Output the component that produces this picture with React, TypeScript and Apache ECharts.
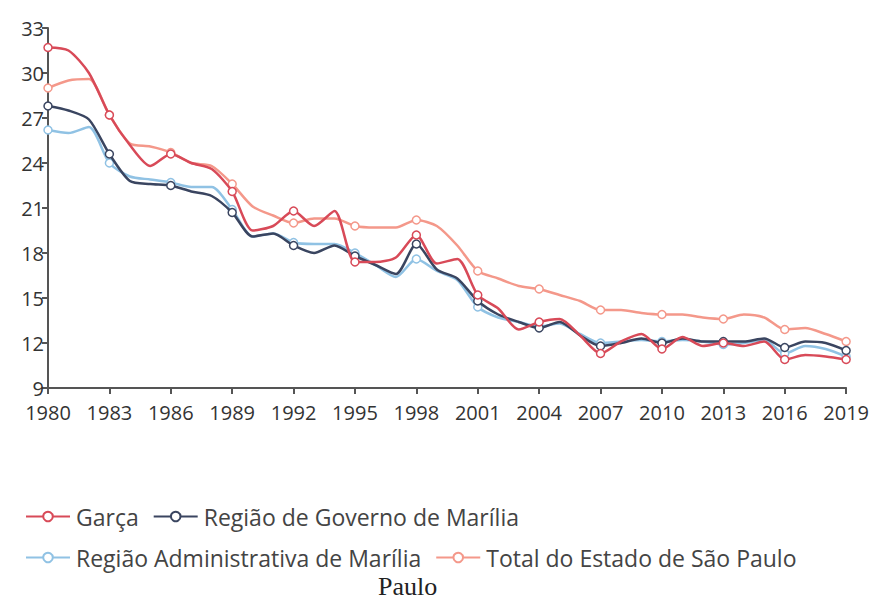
import React, { useEffect, useRef } from "react";
import * as echarts from "echarts";

const years: string[] = [];
for (let y = 1980; y <= 2019; y++) years.push(String(y));

const garca = [31.7, 31.5, 30.0, 27.2, 25.2, 23.8, 24.6, 24.0, 23.6, 22.1,
  19.5, 19.8, 20.8, 19.8, 20.8, 17.4, 17.4, 17.7, 19.2, 17.3,
  17.6, 15.2, 14.3, 12.9, 13.4, 13.6, 12.5, 11.3, 12.1, 12.6,
  11.6, 12.4, 11.8, 12.0, 11.8, 12.1, 10.9, 11.2, 11.1, 10.9];
const governo = [27.8, 27.5, 26.9, 24.6, 22.8, 22.6, 22.5, 22.1, 21.8, 20.7,
  19.1, 19.3, 18.5, 18.0, 18.5, 17.8, 17.2, 16.6, 18.6, 16.9,
  16.3, 14.8, 13.9, 13.4, 13.0, 13.4, 12.5, 11.8, 12.0, 12.3,
  12.0, 12.3, 12.1, 12.1, 12.1, 12.3, 11.7, 12.1, 12.0, 11.5];
const administrativa = [26.2, 26.0, 26.4, 24.0, 23.1, 22.9, 22.7, 22.4, 22.4, 20.9,
  19.1, 19.3, 18.7, 18.6, 18.6, 18.0, 17.2, 16.4, 17.6, 16.8,
  16.2, 14.4, 13.7, 13.4, 13.1, 13.3, 12.6, 12.0, 12.1, 12.2,
  12.1, 12.2, 12.1, 11.9, 12.0, 12.2, 11.3, 11.8, 11.6, 11.1];
const total = [29.0, 29.5, 29.6, 27.2, 25.3, 25.1, 24.7, 24.0, 23.8, 22.6,
  21.1, 20.5, 20.0, 20.3, 20.3, 19.8, 19.7, 19.7, 20.2, 19.8,
  18.5, 16.8, 16.3, 15.8, 15.6, 15.2, 14.8, 14.2, 14.2, 14.0,
  13.9, 13.9, 13.7, 13.6, 13.9, 13.7, 12.9, 13.0, 12.6, 12.1];

const seriesNames = [
  "Garça",
  "Região de Governo de Marília",
  "Região Administrativa de Marília",
  "Total do Estado de São Paulo",
];
const seriesData = [garca, governo, administrativa, total];
const seriesColors = ["#d84a58", "#3a4560", "#90c2e4", "#f4988a"];

export default function App() {
  const ref = useRef<HTMLDivElement>(null);
  useEffect(() => {
    if (!ref.current) return;
    const chart = echarts.init(ref.current, null, { renderer: "svg" });
    const font = "'Open Sans', 'Noto Sans', sans-serif";
    const legendText = { fontSize: 23, color: "#444", fontFamily: font, padding: [0, 0, 0, 1] };
    chart.setOption({
      animation: false,
      textStyle: { fontFamily: font },
      grid: { left: 48, right: 22, top: 28, bottom: 214 },
      legend: [
        {
          data: [seriesNames[0], seriesNames[1]],
          left: 20,
          top: 500,
          itemWidth: 44,
          itemHeight: 12,
          itemGap: 14,
          textStyle: legendText,
        },
        {
          data: [seriesNames[2], seriesNames[3]],
          left: 20,
          top: 541,
          itemWidth: 44,
          itemHeight: 12,
          itemGap: 14,
          textStyle: legendText,
        },
      ],
      xAxis: {
        type: "category",
        data: years,
        boundaryGap: false,
        axisLine: { lineStyle: { color: "#555", width: 2 } },
        axisTick: { interval: 2, length: 6, lineStyle: { color: "#555", width: 2 } },
        axisLabel: { interval: 2, fontSize: 20, lineHeight: 14, color: "#333", margin: 17 },
      },
      yAxis: {
        type: "value",
        min: 9,
        max: 33,
        interval: 3,
        splitLine: { show: false },
        axisLine: { show: true, lineStyle: { color: "#555", width: 2 } },
        axisTick: { show: true, length: 6, lineStyle: { color: "#555", width: 2 } },
        axisLabel: { fontSize: 20, lineHeight: 14, color: "#333", margin: 4 },
      },
      series: seriesNames.map((name, i) => ({
        name,
        type: "line",
        data: seriesData[i],
        smooth: 0.25,
        symbol: "circle",
        symbolSize: (_v: any, p: any) => (p.dataIndex % 3 === 0 ? 8 : 0),
        showAllSymbol: true,
        z: i === 3 ? 1 : 4 - i,
        lineStyle: { color: seriesColors[i], width: 2.5 },
        itemStyle: { color: "#fff", borderColor: seriesColors[i], borderWidth: 1.5 },
      })),
      graphic: [
        {
          type: "text",
          left: 378,
          top: 573,
          style: {
            text: "Paulo",
            fontSize: 26,
            fontFamily: "'Liberation Serif', 'DejaVu Serif', serif",
            fill: "#222",
          },
        },
      ],
    });
    return () => chart.dispose();
  }, []);
  return <div ref={ref} style={{ width: 872, height: 602, position: "absolute", left: 0, top: 0 }} />;
}
